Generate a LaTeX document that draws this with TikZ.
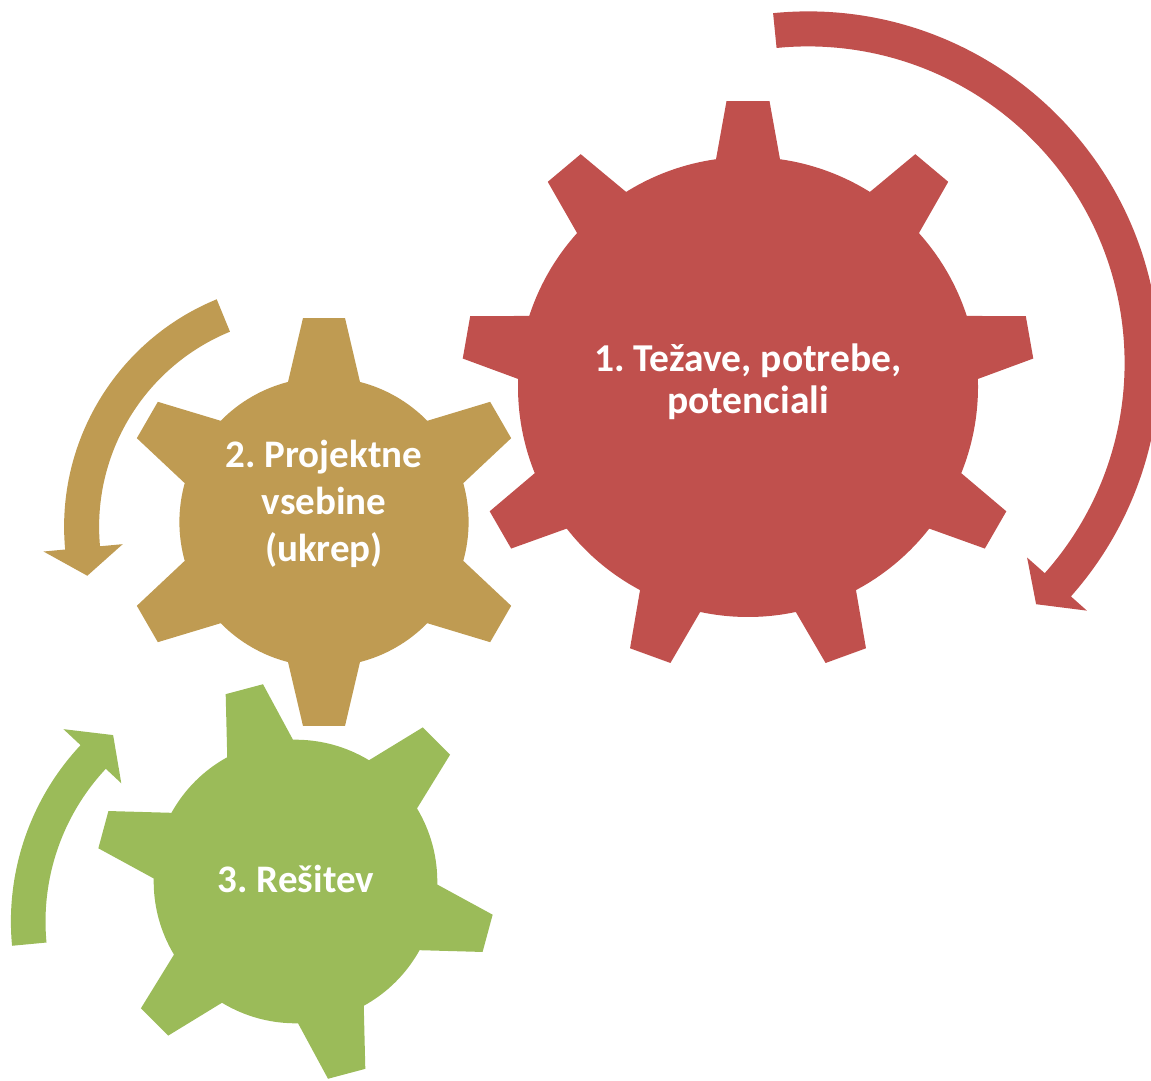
\documentclass[tikz,border=0pt]{standalone}
\usepackage{fontspec}
\setmainfont{Carlito}
\frenchspacing
\definecolor{cred}{HTML}{C0504D}
\definecolor{ctan}{RGB}{191,155,82}
\definecolor{cgreen}{HTML}{9BBB59}
\newcommand{\mygear}[9]{%
  \pgfmathsetmacro\gb{asin(#7/#5)}%
  \pgfmathsetmacro\gt{atan(#8/#6)}%
  \pgfmathsetmacro\gr{veclen(#6,#8)}%
  \pgfmathsetmacro\gs{360/#3}%
  \pgfmathtruncatemacro\gn{#3-1}%
  \fill[#9, shift={(#1,#2)}] ({#4-\gb}:#5)
    \foreach \k in {0,...,\gn} {
      -- ({#4+\k*\gs-\gt}:\gr) -- ({#4+\k*\gs+\gt}:\gr) -- ({#4+\k*\gs+\gb}:#5)
      arc[start angle={#4+\k*\gs+\gb}, end angle={#4+(\k+1)*\gs-\gb}, radius=#5pt]
    } -- cycle;%
}
\tikzset{lbl/.style={text=white, align=center, inner sep=0pt}}
\begin{document}
\begin{tikzpicture}[x=1pt,y=1pt]
\useasboundingbox (0,0) rectangle (1151,1080);
% gears
\mygear{748}{693}{9}{90}{230}{285.9}{32}{21.5}{cred}
\mygear{324}{558}{6}{90}{144.6}{204}{36}{21}{ctan}
\mygear{295.5}{198.5}{6}{104.9}{141.8}{199}{34}{19.3}{cgreen}
% arrows
\fill[cred, shift={(808,717)}] (95.7:351.6) arc[start angle=95.7, end angle=-41.6, radius=351.6pt]
  -- (-41.6:373) -- (-46.6:332) -- (-41.6:293) -- (-41.6:316.6)
  arc[start angle=-41.6, end angle=95.7, radius=316.6pt] -- cycle;
\fill[ctan, shift={(310,553.2)}] (112.3:245.9) arc[start angle=112.3, end angle=185.3, radius=245.9pt]
  -- (185.3:267.6) -- (192.4:228) -- (185.3:188.1) -- (185.3:210.9)
  arc[start angle=185.3, end angle=112.3, radius=210.9pt] -- cycle;
\fill[cgreen, shift={(269,158.5)}] (185.4:258.1) arc[start angle=185.4, end angle=136.9, radius=258.1pt]
  -- (136.9:281.5) -- (129.9:243) -- (136.9:202.3) -- (136.9:223.5)
  arc[start angle=136.9, end angle=185.4, radius=223.5pt] -- cycle;
% labels
\node[lbl, font={\bfseries\fontsize{39.5}{42}\selectfont}] (t1) at (748,698) {1. Težave, potrebe,\\potenciali};
\node[lbl, font={\bfseries\fontsize{39}{47}\selectfont}] (t2) at (324,576) {2. Projektne\\vsebine\\(ukrep)};
\node[lbl, font={\bfseries\fontsize{39}{42}\selectfont}, anchor=base] (t3) at (296,187.3) {3. Rešitev};
\end{tikzpicture}
\end{document}
